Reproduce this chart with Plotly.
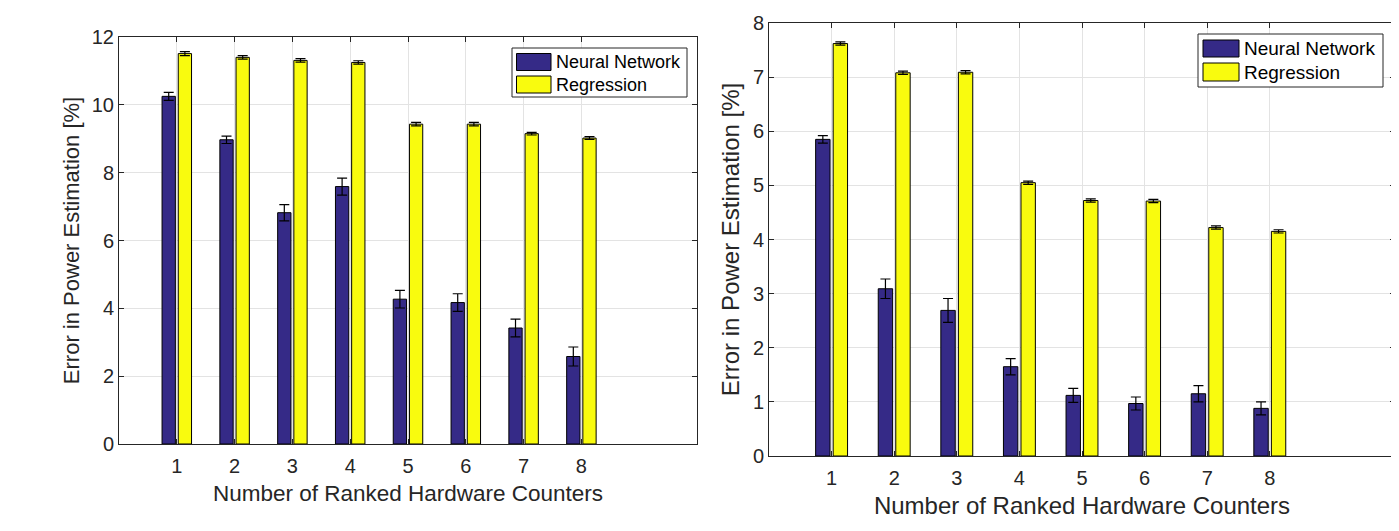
import plotly.graph_objects as go

counters = [1, 2, 3, 4, 5, 6, 7, 8]
tick_labels = ["1", "2", "3", "4", "5", "6", "7", "8"]
series_names = ["Neural Network", "Regression"]

nn_left = [10.25, 8.97, 6.82, 7.59, 4.27, 4.17, 3.42, 2.58]
nn_left_err = [0.12, 0.11, 0.24, 0.25, 0.26, 0.26, 0.26, 0.28]
reg_left = [11.51, 11.40, 11.31, 11.25, 9.43, 9.43, 9.15, 9.02]
reg_left_err = [0.06, 0.05, 0.05, 0.05, 0.05, 0.05, 0.04, 0.04]

nn_right = [5.85, 3.09, 2.69, 1.65, 1.12, 0.97, 1.15, 0.88]
nn_right_err = [0.07, 0.18, 0.22, 0.15, 0.13, 0.12, 0.15, 0.12]
reg_right = [7.62, 7.08, 7.09, 5.05, 4.72, 4.71, 4.22, 4.15]
reg_right_err = [0.03, 0.03, 0.03, 0.03, 0.03, 0.03, 0.03, 0.03]

NN_COLOR = "#352a87"
REG_COLOR = "#f9fb0e"
COLORS = [NN_COLOR, REG_COLOR]
AX_COLOR = "#262626"
GRID = "#e3e3e3"
FONT = "Liberation Sans, Arial, Helvetica, sans-serif"

# the page body has an 8px default margin; size the figure so it fills the window
OFF = 8
W, H = 1399 - OFF, 531 - OFF


def px(x):
    return (x - OFF) / W


def py(y):
    return 1 - (y - OFF) / H


fig = go.Figure()


def add_pair(nn, nn_err, reg, reg_err, xa, ya):
    fig.add_trace(go.Bar(
        x=counters, y=nn, name=series_names[0], width=0.23, offset=-0.255,
        marker=dict(color=NN_COLOR, line=dict(color="black", width=1)),
        error_y=dict(type="data", array=nn_err, color="black", thickness=1.2, width=5),
        xaxis=xa, yaxis=ya, showlegend=False,
    ))
    fig.add_trace(go.Bar(
        x=counters, y=reg, name=series_names[1], width=0.23, offset=0.025,
        marker=dict(color=REG_COLOR, line=dict(color="black", width=1)),
        error_y=dict(type="data", array=reg_err, color="black", thickness=1.2, width=5),
        xaxis=xa, yaxis=ya, showlegend=False,
    ))


add_pair(nn_left, nn_left_err, reg_left, reg_left_err, "x", "y")
add_pair(nn_right, nn_right_err, reg_right, reg_right_err, "x2", "y2")


def xaxis(domain, fs, tfs, standoff):
    return dict(
        domain=domain, range=[0, 10], tickmode="array", tickvals=counters, ticktext=tick_labels,
        showgrid=True, gridcolor=GRID, gridwidth=1, zeroline=False,
        showline=True, linecolor=AX_COLOR, linewidth=1, mirror="ticks",
        ticks="inside", ticklen=5, tickcolor=AX_COLOR, ticklabelstandoff=4,
        tickfont=dict(family=FONT, size=fs, color=AX_COLOR),
        title=dict(text="Number of Ranked Hardware Counters",
                   font=dict(family=FONT, size=tfs, color=AX_COLOR), standoff=standoff),
        automargin=False, fixedrange=True,
    )


def yaxis(domain, rng, dtick, fs, tfs, anchor, standoff):
    return dict(
        domain=domain, range=rng, dtick=dtick, anchor=anchor,
        showgrid=True, gridcolor=GRID, gridwidth=1, zeroline=False,
        showline=True, linecolor=AX_COLOR, linewidth=1, mirror="ticks",
        ticks="inside", ticklen=5, tickcolor=AX_COLOR, ticklabelstandoff=0,
        tickfont=dict(family=FONT, size=fs, color=AX_COLOR),
        title=dict(text="Error in Power Estimation [%]",
                   font=dict(family=FONT, size=tfs, color=AX_COLOR), standoff=standoff),
        automargin=False, fixedrange=True,
    )


lx = [px(119), px(697)]
ly = [py(444), py(37)]
rx = [px(769), px(1395)]
ry = [py(456), py(23)]

shapes = []
annotations = []


def add_legend(box, sw_x, sw_rows, text_x, fs):
    x0, y0, x1, y1 = box
    shapes.append(dict(type="rect", xref="paper", yref="paper",
                       x0=px(x0), x1=px(x1), y0=py(y0), y1=py(y1),
                       line=dict(color=AX_COLOR, width=1), fillcolor="white", layer="above"))
    for i, (ya, yb) in enumerate(sw_rows):
        shapes.append(dict(type="rect", xref="paper", yref="paper",
                           x0=px(sw_x[0]), x1=px(sw_x[1]), y0=py(ya), y1=py(yb),
                           line=dict(color="black", width=1), fillcolor=COLORS[i], layer="above"))
        annotations.append(dict(xref="paper", yref="paper", x=px(text_x), y=py((ya + yb) / 2),
                                xanchor="left", yanchor="middle", showarrow=False,
                                text=series_names[i],
                                font=dict(family=FONT, size=fs, color="black")))


add_legend((512, 48, 687, 97), (516.5, 551), [(53.5, 70.5), (76, 93)], 554, 18)
add_legend((1198, 34, 1383, 87), (1203, 1239), [(40, 57), (63, 81)], 1242, 19)

fig.update_layout(
    width=W, height=H,
    margin=dict(l=0, r=0, t=0, b=0),
    paper_bgcolor="white", plot_bgcolor="white",
    barmode="overlay",
    font=dict(family=FONT, color=AX_COLOR),
    xaxis=xaxis(lx, 20, 22.5, 9),
    yaxis=yaxis(ly, [0, 12], 2, 20, 22, "x", 6),
    xaxis2=dict(xaxis(rx, 20, 24, 9), anchor="y2"),
    yaxis2=yaxis(ry, [0, 8], 1, 20, 24, "x2", 6),
    shapes=shapes,
    annotations=annotations,
    showlegend=False,
)

fig.write_html("out.html")
